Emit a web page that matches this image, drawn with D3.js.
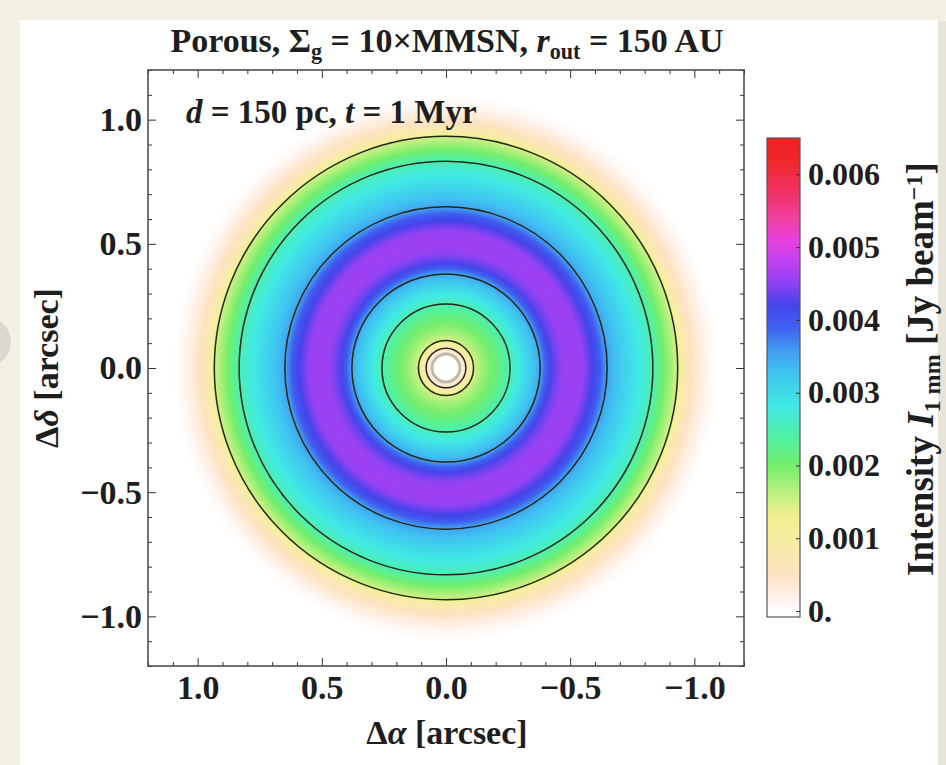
<!DOCTYPE html>
<html><head><meta charset="utf-8">
<script src="https://cdn.jsdelivr.net/npm/d3@7"></script>
<style>body{margin:0;background:#f4f0e3;overflow:hidden}svg{display:block}</style>
</head><body>
<svg id="chart" width="946" height="765"></svg>
<script>
// ---------- data ----------
const xTicks = [1.0, 0.5, 0.0, -0.5, -1.0];
const xTickLabels = ["1.0", "0.5", "0.0", "\u22120.5", "\u22121.0"];
const yTicks = [1.0, 0.5, 0.0, -0.5, -1.0];
const yTickLabels = ["1.0", "0.5", "0.0", "\u22120.5", "\u22121.0"];
const colorbarTicks = [0, 0.001, 0.002, 0.003, 0.004, 0.005, 0.006];
const colorbarTickLabels = ["0.", "0.001", "0.002", "0.003", "0.004", "0.005", "0.006"];
// radial intensity profile (arcsec -> Jy/beam)
const profileRadius =    [0, 0.045, 0.06, 0.08, 0.095, 0.111, 0.15, 0.20, 0.258, 0.32, 0.379, 0.40, 0.43, 0.47, 0.51, 0.55, 0.58, 0.615, 0.649, 0.74, 0.833, 0.87, 0.90, 0.933, 0.942, 0.96, 0.99, 1.02, 1.06, 1.10];
const profileIntensity = [0, 0,     0.0002, 0.0005, 0.0010, 0.0015, 0.0018, 0.0021, 0.0025, 0.0030, 0.0035, 0.0039, 0.0043, 0.00455, 0.0046, 0.00455, 0.0043, 0.0040, 0.0035, 0.0030, 0.0025, 0.0021, 0.0018, 0.0015, 0.0011, 0.0008, 0.0005, 0.0003, 0.0001, 0];
// contour rings (radius in arcsec) and their levels
const contourRadius = [0.08, 0.111, 0.258, 0.379, 0.649, 0.833, 0.933];
const contourLevel =  [0.0005, 0.0015, 0.0025, 0.0035, 0.0035, 0.0025, 0.0015];
const innerEdgeRadius = [0.056];
// colour map (value -> colour)
const colorStops = [0, 0.0002, 0.0005, 0.0009, 0.0013, 0.0016, 0.002, 0.0024, 0.0028, 0.0033, 0.0036, 0.0039, 0.0042, 0.0045, 0.0048, 0.0051, 0.0054, 0.0058, 0.0062, 0.0065];
const colorStopColors = ["#ffffff", "#fff0e6", "#fde2c0", "#f8eca8", "#f0f090", "#c0f080", "#74ee6c", "#50f0a4", "#40eae4", "#40c2f2", "#4098f0", "#4060f0", "#4444ea", "#8e42f3", "#c040f0", "#e840e0", "#f040a0", "#f03060", "#f02828", "#f02020"];

// ---------- layout ----------
const svg = d3.select("#chart");
const plot = {left: 148, right: 744, top: 70, bottom: 666};
const cbar = {left: 767, right: 800, top: 138, bottom: 617, zero: 611};
const font = "'Liberation Serif', 'Times New Roman', serif";
const ink = "#1e1e1e";

// page decoration
svg.append("circle").attr("cx", -14).attr("cy", 342).attr("r", 25).attr("fill", "#dcd8cf");
svg.append("rect").attr("x", 21).attr("y", 21).attr("width", 925).attr("height", 760).attr("fill", "#e8e4da");
svg.append("rect").attr("x", 20).attr("y", 20).attr("width", 918).attr("height", 760).attr("fill", "#ffffff");

const x = d3.scaleLinear().domain([1.2, -1.2]).range([plot.left, plot.right]);
const y = d3.scaleLinear().domain([1.2, -1.2]).range([plot.top, plot.bottom]);
const prof = d3.scaleLinear().domain(profileRadius).range(profileIntensity).clamp(true);
const col = d3.scaleLinear().domain(colorStops).range(colorStopColors).interpolate(d3.interpolateRgb).clamp(true);

// raster image of intensity
const W = plot.right - plot.left, H = plot.bottom - plot.top;
const canvas = document.createElement("canvas");
canvas.width = W; canvas.height = H;
const ctx = canvas.getContext("2d");
const img = ctx.createImageData(W, H);
const N = 4096, vmax = 0.0065, lut = [];
for (let k = 0; k <= N; k++) { const c = d3.rgb(col(k / N * vmax)); lut.push([c.r, c.g, c.b]); }
for (let j = 0; j < H; j++) {
  const yy = y.invert(plot.top + j + 0.5);
  for (let i = 0; i < W; i++) {
    const xx = x.invert(plot.left + i + 0.5);
    const v = prof(Math.hypot(xx, yy));
    const c = lut[Math.max(0, Math.min(N, Math.round(v / vmax * N)))];
    const p = (j * W + i) * 4;
    img.data[p] = c[0]; img.data[p + 1] = c[1]; img.data[p + 2] = c[2]; img.data[p + 3] = 255;
  }
}
ctx.putImageData(img, 0, 0);
svg.append("image").attr("x", plot.left).attr("y", plot.top).attr("width", W).attr("height", H)
  .attr("href", canvas.toDataURL());

// contour rings
const cx = x(0), cy = y(0);
const gC = svg.append("g");
gC.selectAll("circle.inner").data(innerEdgeRadius).join("circle")
  .attr("cx", cx).attr("cy", cy).attr("r", d => x(0) - x(d))
  .attr("fill", "none").attr("stroke", "#8a8a70").attr("stroke-width", 3).attr("opacity", 0.55);
gC.selectAll("circle.ct").data(contourRadius).join("circle")
  .attr("cx", cx).attr("cy", cy).attr("r", d => x(0) - x(d))
  .attr("fill", "none").attr("stroke", "#262618").attr("stroke-width", 1.5);

// axes with inward ticks
const minorTicks = d3.range(-12, 13).map(d => d / 10).filter(d => Math.abs(d * 2 - Math.round(d * 2)) > 1e-9);
function styleAxis(g) {
  g.select(".domain").remove();
  g.selectAll(".tick line").attr("stroke", "#333").attr("stroke-width", 1);
  g.selectAll(".tick text").attr("font-family", font).attr("font-weight", "bold").attr("font-size", 34).attr("fill", ink);
}
svg.append("g").attr("transform", `translate(0,${plot.bottom})`)
  .call(d3.axisBottom(x).tickValues(xTicks).tickFormat((d, i) => xTickLabels[i]).tickSize(-8).tickPadding(9)).call(styleAxis);
svg.append("g").attr("transform", `translate(0,${plot.bottom})`)
  .call(d3.axisBottom(x).tickValues(minorTicks).tickFormat("").tickSize(-4)).call(styleAxis);
svg.append("g").attr("transform", `translate(0,${plot.top})`)
  .call(d3.axisTop(x).tickValues(xTicks).tickFormat("").tickSize(-8)).call(styleAxis);
svg.append("g").attr("transform", `translate(0,${plot.top})`)
  .call(d3.axisTop(x).tickValues(minorTicks).tickFormat("").tickSize(-4)).call(styleAxis);
svg.append("g").attr("transform", `translate(${plot.left},0)`)
  .call(d3.axisLeft(y).tickValues(yTicks).tickFormat((d, i) => yTickLabels[i]).tickSize(-8).tickPadding(6)).call(styleAxis);
svg.append("g").attr("transform", `translate(${plot.left},0)`)
  .call(d3.axisLeft(y).tickValues(minorTicks).tickFormat("").tickSize(-4)).call(styleAxis);
svg.append("g").attr("transform", `translate(${plot.right},0)`)
  .call(d3.axisRight(y).tickValues(yTicks).tickFormat("").tickSize(-8)).call(styleAxis);
svg.append("g").attr("transform", `translate(${plot.right},0)`)
  .call(d3.axisRight(y).tickValues(minorTicks).tickFormat("").tickSize(-4)).call(styleAxis);
svg.append("rect").attr("x", plot.left).attr("y", plot.top).attr("width", W).attr("height", H)
  .attr("fill", "none").attr("stroke", "#444").attr("stroke-width", 1.5);

// texts
function richText(parent, parts, attrs) {
  const t = parent.append("text").attr("font-family", font).attr("font-weight", "bold").attr("fill", ink);
  Object.entries(attrs).forEach(([k, v]) => t.attr(k, v));
  parts.forEach(p => {
    const s = t.append("tspan").text(p.t);
    if (p.i) s.attr("font-style", "italic");
    if (p.sub) s.attr("baseline-shift", "-30%").attr("font-size", "65%");
    if (p.sup) s.attr("baseline-shift", "45%").attr("font-size", "65%");
  });
  return t;
}
richText(svg, [{t: "Porous, \u03A3"}, {t: "g", sub: 1}, {t: " = 10\u00D7MMSN, "}, {t: "r", i: 1}, {t: "out", sub: 1}, {t: " = 150 AU"}],
  {x: 447, y: 52, "text-anchor": "middle", "font-size": 34});
richText(svg, [{t: "d", i: 1}, {t: " = 150 pc,  "}, {t: "t", i: 1}, {t: " = 1 Myr"}],
  {x: 186, y: 123, "font-size": 33});
richText(svg, [{t: "\u0394"}, {t: "\u03B1", i: 1}, {t: " [arcsec]"}],
  {x: 447, y: 744, "text-anchor": "middle", "font-size": 34});
richText(svg, [{t: "\u0394"}, {t: "\u03B4", i: 1}, {t: " [arcsec]"}],
  {x: 0, y: 0, "text-anchor": "middle", "font-size": 34, transform: "translate(58,368) rotate(-90)"});
richText(svg, [{t: "Intensity  "}, {t: "I", i: 1}, {t: "1 mm", sub: 1}, {t: " [Jy beam"}, {t: "\u22121", sup: 1}, {t: "]"}],
  {x: 0, y: 0, "text-anchor": "middle", "font-size": 37, transform: "translate(933,369) rotate(-90)"});

// colour bar
const cScale = d3.scaleLinear().domain([0, 0.0065]).range([cbar.zero, cbar.top]);
const defs = svg.append("defs");
const grad = defs.append("linearGradient").attr("id", "cbgrad")
  .attr("gradientUnits", "userSpaceOnUse")
  .attr("x1", 0).attr("x2", 0).attr("y1", cbar.zero).attr("y2", cbar.top);
grad.selectAll("stop").data(colorStops).join("stop")
  .attr("offset", d => d / 0.0065).attr("stop-color", (d, i) => colorStopColors[i]);
svg.append("rect").attr("x", cbar.left).attr("y", cbar.top).attr("width", cbar.right - cbar.left)
  .attr("height", cbar.bottom - cbar.top).attr("fill", "url(#cbgrad)").attr("stroke", "#555").attr("stroke-width", 1.2);
svg.append("g").attr("transform", `translate(${cbar.right},0)`)
  .call(d3.axisRight(cScale).tickValues(colorbarTicks).tickFormat((d, i) => colorbarTickLabels[i]).tickSize(-4).tickPadding(8))
  .call(styleAxis).selectAll(".tick text").attr("font-size", 32);
</script>
</body></html>
